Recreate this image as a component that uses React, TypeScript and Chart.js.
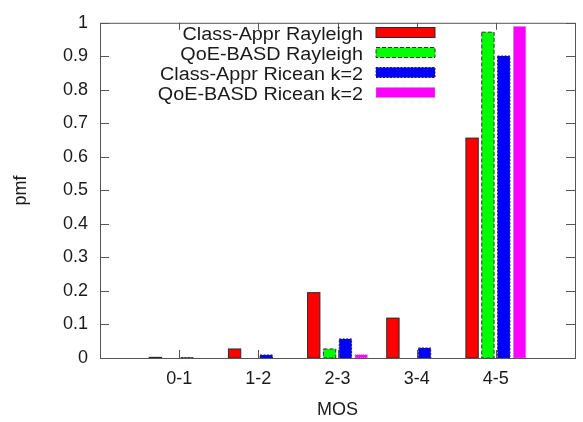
import React, { useEffect, useRef } from 'react';
import { Chart, registerables } from 'chart.js';

Chart.register(...registerables);

const categories = ['0-1', '1-2', '2-3', '3-4', '4-5'];
const xLabels = ['', ...categories, ''];
const seriesLabels = [
  'Class-Appr Rayleigh',
  'QoE-BASD Rayleigh',
  'Class-Appr Ricean k=2',
  'QoE-BASD Ricean k=2',
];
const classApprRayleigh = [0.002, 0.027, 0.195, 0.119, 0.656];
const qoeBasdRayleigh = [0, 0, 0.027, 0, 0.972];
const classApprRicean = [0.001, 0.009, 0.057, 0.03, 0.901];
const qoeBasdRicean = [0, 0, 0.01, 0, 0.989];
const yMin = 0;
const yMax = 1;
const yStep = 0.1;

const FONT = 'Liberation Sans, Arial, sans-serif';

const seriesStyles = [
  { fill: '#ff0000', stroke: '#2a2a2a', dash: [] as number[] },
  { fill: '#00ff00', stroke: '#333333', dash: [4, 2] },
  { fill: '#0000ff', stroke: '#222244', dash: [2, 1.5] },
  { fill: '#ff00ff', stroke: '#b0a0b0', dash: [1, 1] },
];

const pad = (arr: number[]) => [null, ...arr, null];

const framePlugin = {
  id: 'gnuplotFrame',
  afterDatasetsDraw(chart: any) {
    const ctx = chart.ctx as CanvasRenderingContext2D;
    ctx.save();
    chart.data.datasets.forEach((ds: any, i: number) => {
      const meta = chart.getDatasetMeta(i);
      const st = seriesStyles[i];
      ctx.strokeStyle = st.stroke;
      ctx.lineWidth = 1;
      ctx.setLineDash(st.dash);
      meta.data.forEach((el: any, j: number) => {
        const v = ds.data[j];
        if (v == null || v <= 0) return;
        const p = el.getProps(['x', 'y', 'base', 'width'], true);
        ctx.strokeRect(p.x - p.width / 2, p.y, p.width, p.base - p.y);
      });
    });
    ctx.restore();
  },
  afterDraw(chart: any) {
    const ctx = chart.ctx as CanvasRenderingContext2D;
    const { left, right, top, bottom } = chart.chartArea;
    const xs = chart.scales.x;
    const ys = chart.scales.y;
    ctx.save();
    ctx.strokeStyle = '#555555';
    ctx.lineWidth = 1;
    ctx.setLineDash([]);
    ctx.strokeRect(left + 0.5, top + 0.5, right - left, bottom - top);
    ctx.beginPath();
    ys.ticks.forEach((t: any) => {
      const py = Math.round(ys.getPixelForValue(t.value)) + 0.5;
      ctx.moveTo(left, py);
      ctx.lineTo(left + 9, py);
      ctx.moveTo(right, py);
      ctx.lineTo(right - 9, py);
    });
    categories.forEach((c, k) => {
      const px = Math.round(xs.getPixelForValue(k + 1)) + 0.5;
      ctx.moveTo(px, bottom);
      ctx.lineTo(px, bottom - 8);
      ctx.moveTo(px, top);
      ctx.lineTo(px, top + 7);
    });
    ctx.stroke();

    // legend (gnuplot style: right-aligned text, swatch on the right)
    const textRight = 363;
    const swX = 376;
    const swW = 59;
    const swH = 10;
    seriesLabels.forEach((lab, i) => {
      const swY = 27.5 + i * 20;
      const st = seriesStyles[i];
      ctx.fillStyle = st.fill;
      ctx.fillRect(swX, swY, swW, swH);
      ctx.strokeStyle = st.stroke;
      ctx.setLineDash(st.dash);
      ctx.strokeRect(swX, swY, swW, swH);
      ctx.setLineDash([]);
      ctx.save();
      ctx.translate(textRight, swY + 12.5);
      ctx.scale(1.1, 1);
      ctx.font = `18px ${FONT}`;
      ctx.fillStyle = '#1a1a1a';
      ctx.textAlign = 'right';
      ctx.textBaseline = 'alphabetic';
      ctx.fillText(lab, 0, 0);
      ctx.restore();
    });
    ctx.restore();
  },
};

export default function App() {
  const ref = useRef<HTMLCanvasElement>(null);
  useEffect(() => {
    const seriesData = [classApprRayleigh, qoeBasdRayleigh, classApprRicean, qoeBasdRicean];
    const chart = new Chart(ref.current as HTMLCanvasElement, {
      type: 'bar',
      data: {
        labels: xLabels,
        datasets: seriesData.map((d, i) => ({
          label: seriesLabels[i],
          data: pad(d) as any,
          backgroundColor: seriesStyles[i].fill,
          borderWidth: 0,
          categoryPercentage: 0.8,
          barPercentage: 0.78,
        })),
      },
      options: {
        responsive: false,
        animation: false,
        layout: { padding: { top: 13, left: 0, right: 0, bottom: 0 } },
        plugins: {
          legend: { display: false },
          tooltip: { enabled: false },
        },
        scales: {
          x: {
            type: 'category',
            offset: false,
            grid: { display: false, drawTicks: false },
            border: { display: false },
            ticks: {
              autoSkip: false,
              maxRotation: 0,
              padding: 10,
              color: '#1a1a1a',
              font: { family: FONT, size: 18 },
            },
            title: {
              display: true,
              text: 'MOS',
              color: '#1a1a1a',
              font: { family: FONT, size: 18 },
              padding: { top: 0, bottom: 1 },
            },
            afterFit: (scale: any) => {
              scale.height = 64;
            },
          },
          y: {
            min: yMin,
            max: yMax,
            grid: { display: false, drawTicks: false },
            border: { display: false },
            ticks: {
              stepSize: yStep,
              padding: 12,
              color: '#1a1a1a',
              font: { family: FONT, size: 18 },
              callback: (v: any) => Number(v).toFixed(1).replace(/\.0$/, ''),
            },
            title: {
              display: true,
              text: 'pmf',
              color: '#1a1a1a',
              font: { family: FONT, size: 18 },
              padding: { top: 10, bottom: 0 },
            },
            afterFit: (scale: any) => {
              scale.width = 100;
            },
          },
        },
      },
      plugins: [framePlugin],
    });
    return () => chart.destroy();
  }, []);
  return (
    <div style={{ position: 'fixed', left: 0, top: 0, width: 585, height: 422, background: '#ffffff' }}>
      <canvas ref={ref} width={585} height={422} style={{ display: 'block', width: 585, height: 422 }} />
    </div>
  );
}
